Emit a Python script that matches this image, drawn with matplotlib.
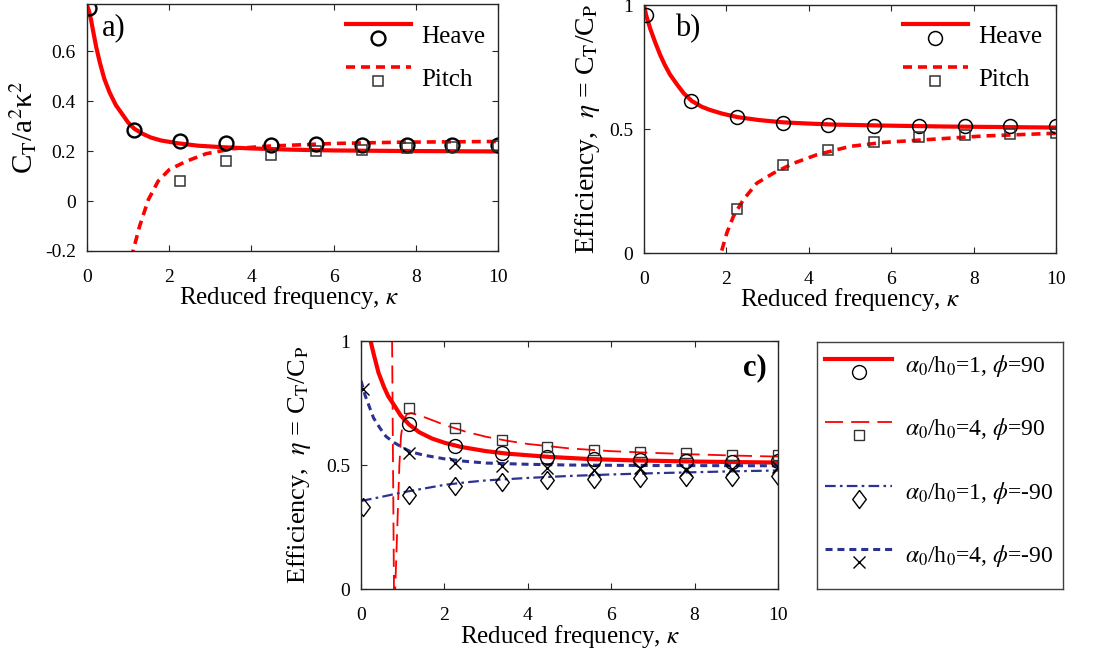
import numpy as np
import matplotlib
matplotlib.use('Agg')
import matplotlib.pyplot as plt
from matplotlib.legend_handler import HandlerBase
from matplotlib.lines import Line2D

plt.rcParams['font.family'] = ['Liberation Serif', 'DejaVu Serif']
plt.rcParams['mathtext.fontset'] = 'stix'

RED = '#ff0000'
BLUE = '#2d3192'
DIAMOND = [(0, 1), (0.75, 0), (0, -1), (-0.75, 0), (0, 1)]

# reduced frequency of the experiments / simulations (markers)
k_pts = [0.05, 1.15, 2.26, 3.37, 4.47, 5.58, 6.68, 7.79, 8.89, 10.0]

# ---- a) thrust coefficient ----
a_heave_x = [0, 0.05, 0.1, 0.15, 0.22, 0.31, 0.42, 0.55, 0.7, 0.85, 1.0, 1.15, 1.35,
             1.55, 1.8, 2.2, 2.7, 3.3, 4.0, 5.0, 6.0, 7.5, 10]
a_heave_y = [0.785, 0.76, 0.725, 0.68, 0.62, 0.556, 0.49, 0.435, 0.385, 0.35, 0.315, 0.29,
             0.27, 0.255, 0.243, 0.232, 0.222, 0.216, 0.211, 0.206, 0.203, 0.201, 0.199]
a_pitch_x = [1.08, 1.12, 1.28, 1.49, 1.73, 2.0, 2.42, 2.9, 3.55, 4.37, 6.0, 7.6, 10]
a_pitch_y = [-0.23, -0.2, -0.1, 0.005, 0.08, 0.126, 0.16, 0.19, 0.21, 0.22, 0.231, 0.236, 0.239]
a_heave_pts = [0.773, 0.285, 0.242, 0.234, 0.225, 0.23, 0.223, 0.224, 0.225, 0.224]
a_pitch_pts = [0.079, 0.161, 0.184, 0.199, 0.205, 0.212, 0.218, 0.222]

# ---- b) efficiency ----
b_heave_x = [0, 0.05, 0.15, 0.27, 0.39, 0.5, 0.63, 0.8, 0.96, 1.16, 1.4, 1.6, 1.9, 2.27,
             2.8, 3.38, 4.0, 4.6, 5.8, 7.4, 10]
b_heave_y = [1.0, 0.96, 0.905, 0.85, 0.8, 0.76, 0.72, 0.68, 0.645, 0.613, 0.59, 0.577,
             0.562, 0.548, 0.536, 0.527, 0.522, 0.518, 0.514, 0.51, 0.506]
b_pitch_x = [1.84, 1.87, 2.01, 2.17, 2.41, 2.74, 3.14, 3.63, 4.19, 5.0, 5.81, 7.03, 8.24, 10]
b_pitch_y = [-0.05, 0.0, 0.081, 0.148, 0.215, 0.282, 0.322, 0.362, 0.396, 0.43, 0.446,
             0.459, 0.472, 0.483]
b_heave_pts = [0.96, 0.613, 0.548, 0.526, 0.515, 0.513, 0.513, 0.513, 0.514, 0.514]
b_pitch_pts = [0.177, 0.354, 0.417, 0.448, 0.466, 0.474, 0.48, 0.486]

# ---- c) combined heave + pitch ----
c1_x = [0.1, 0.23, 0.3, 0.42, 0.55, 0.65, 0.8, 0.95, 1.15, 1.4, 1.7, 2.0, 2.4, 3.0, 3.5,
        4.5, 5.5, 6.5, 8.0, 10]
c1_y = [1.2, 1.0, 0.95, 0.872, 0.815, 0.778, 0.74, 0.70, 0.664, 0.632, 0.607, 0.59, 0.573,
        0.556, 0.546, 0.533, 0.524, 0.519, 0.514, 0.51]
c2_x = [0.6, 0.745, 0.79, 0.80, 0.82, 0.85, 0.88, 0.92, 0.96, 1.02, 1.1, 1.2, 1.4, 1.6, 2.0,
        2.5, 3.0, 3.5, 4.0, 5.0, 6.0, 7.0, 8.0, 9.0, 10]
c2_y = [3.0, 1.0, 0.0, -0.5, 0.0, 0.15, 0.3, 0.5, 0.62, 0.68, 0.705, 0.71, 0.70, 0.688,
        0.662, 0.635, 0.614, 0.598, 0.585, 0.567, 0.556, 0.549, 0.543, 0.538, 0.534]
c3_x = [0, 0.5, 1.0, 1.5, 2.0, 2.5, 3.0, 4.0, 5.0, 6.0, 7.0, 8.0, 9.0, 10]
c3_y = [0.355, 0.372, 0.39, 0.405, 0.42, 0.43, 0.438, 0.448, 0.456, 0.462, 0.467, 0.471,
        0.475, 0.478]
c4_x = [0, 0.1, 0.2, 0.3, 0.45, 0.6, 0.8, 1.0, 1.2, 1.5, 2.0, 2.5, 3.0, 4.0, 5.0, 7.0, 10]
c4_y = [0.84, 0.78, 0.735, 0.69, 0.65, 0.615, 0.59, 0.57, 0.553, 0.54, 0.525, 0.515, 0.508,
        0.503, 0.5, 0.498, 0.497]
c1_pts = [0.667, 0.577, 0.547, 0.531, 0.523, 0.52, 0.517, 0.513, 0.515]
c2_pts = [0.73, 0.651, 0.601, 0.574, 0.56, 0.551, 0.547, 0.54, 0.541]
c3_pts = [0.33, 0.38, 0.415, 0.433, 0.44, 0.444, 0.446, 0.45, 0.453, 0.456]
c4_pts = [0.805, 0.548, 0.507, 0.496, 0.487, 0.48, 0.487, 0.48, 0.484, 0.494]

c_labels = [r'$\alpha_0$/h$_0$=1, $\phi$=90', r'$\alpha_0$/h$_0$=4, $\phi$=90',
            r'$\alpha_0$/h$_0$=1, $\phi$=-90', r'$\alpha_0$/h$_0$=4, $\phi$=-90']

eff_label = r'Efficiency,  $\eta$ = C$_\mathrm{T}$/C$_\mathrm{P}$'


class LineOverMarker(HandlerBase):
    # matlab style legend key: line sample on top, marker under it
    def __init__(self, y_line, y_mark):
        super().__init__()
        self.y_line = y_line
        self.y_mark = y_mark

    def create_artists(self, legend, orig_handle, xdescent, ydescent, width, height,
                       fontsize, trans):
        line, mark = orig_handle
        l = Line2D([-xdescent, -xdescent + width], [self.y_line * fontsize] * 2)
        l.update_from(line)
        l.set_marker('None')
        m = Line2D([-xdescent + width / 2], [self.y_mark * fontsize])
        m.update_from(mark)
        m.set_linestyle('None')
        for a in (l, m):
            a.set_transform(trans)
            a.set_clip_on(False)
            a.set_clip_box(None)
        return [l, m]


def style_axes(ax):
    for s in ax.spines.values():
        s.set_color('#262626')
        s.set_linewidth(1.0)
    ax.tick_params(direction='in', top=True, right=True, length=4, width=0.8,
                   colors='#262626', labelcolor='black', labelsize=14)
    ax.tick_params(axis='x', pad=13)
    ax.tick_params(axis='y', pad=8)
    ax.set_xlim(0, 10)
    ax.set_xticks([0, 2, 4, 6, 8, 10])
    ax.set_xticklabels(['0', '2', '4', '6', '8', '10'])
    ax.set_xlabel(r'Reduced frequency, $\kappa$', fontsize=18)


fig = plt.figure(figsize=(10.99, 6.56), dpi=100)

# ---------------- a) ----------------
ax = fig.add_axes([0.0792, 0.6174, 0.3740, 0.3765])
style_axes(ax)
h_line, = ax.plot(a_heave_x, a_heave_y, color=RED, lw=3)
p_line, = ax.plot(a_pitch_x, a_pitch_y, color=RED, lw=2.6, dashes=(2.5, 1.65))
h_mk, = ax.plot(k_pts, a_heave_pts, 'o', ms=10, mfc='none', mec='black', mew=1.7)
p_mk, = ax.plot(k_pts[2:], a_pitch_pts, 's', ms=7, mfc='none', mec='#333333', mew=1.1)
ax.set_ylim(-0.2, 0.79)
ax.set_yticks([-0.2, 0, 0.2, 0.4, 0.6])
ax.set_yticklabels(['-0.2', '0', '0.2', '0.4', '0.6'])
ax.set_ylabel(r'C$_\mathrm{T}$/a$^2$κ$^2$', fontsize=21)
ax.yaxis.set_label_coords(-0.117, 0.5)
ax.xaxis.set_label_coords(0.49, -0.134)
ax.text(0.036, 0.903, 'a)', transform=ax.transAxes, fontsize=22, va='center')
ax.legend([(h_line, h_mk), (p_line, p_mk)], ['Heave', 'Pitch'],
          handler_map={tuple: LineOverMarker(0.77, 0.2)}, loc='upper right',
          bbox_to_anchor=(0.968, 0.927), frameon=False, borderpad=0, borderaxespad=0,
          handlelength=2.6, handletextpad=0.4, handleheight=1.2, labelspacing=0.67,
          fontsize=18)

# ---------------- b) ----------------
ax = fig.add_axes([0.5860, 0.6143, 0.3749, 0.3780])
style_axes(ax)
h_line, = ax.plot(b_heave_x, b_heave_y, color=RED, lw=3)
p_line, = ax.plot(b_pitch_x, b_pitch_y, color=RED, lw=2.6, dashes=(2.5, 1.65))
h_mk, = ax.plot(k_pts, b_heave_pts, 'o', ms=10, mfc='none', mec='black', mew=1.1)
p_mk, = ax.plot(k_pts[2:], b_pitch_pts, 's', ms=7, mfc='none', mec='#333333', mew=1.1)
ax.set_ylim(0, 1)
ax.set_yticks([0, 0.5, 1])
ax.set_yticklabels(['0', '0.5', '1'])
ax.set_ylabel(eff_label, fontsize=20)
ax.yaxis.set_label_coords(-0.102, 0.5)
ax.xaxis.set_label_coords(0.5, -0.134)
ax.text(0.075, 0.907, 'b)', transform=ax.transAxes, fontsize=22, va='center')
ax.legend([(h_line, h_mk), (p_line, p_mk)], ['Heave', 'Pitch'],
          handler_map={tuple: LineOverMarker(0.77, 0.2)}, loc='upper right',
          bbox_to_anchor=(0.966, 0.932), frameon=False, borderpad=0, borderaxespad=0,
          handlelength=2.6, handletextpad=0.4, handleheight=1.2, labelspacing=0.67,
          fontsize=18)

# ---------------- c) ----------------
ax = fig.add_axes([0.3285, 0.1021, 0.3794, 0.3780])
style_axes(ax)
l1, = ax.plot(c1_x, c1_y, color=RED, lw=3)
l2, = ax.plot(c2_x, c2_y, color=RED, lw=1.3, dashes=(10, 4.5))
l3, = ax.plot(c3_x, c3_y, color=BLUE, lw=1.6, dashes=(4.8, 1.9, 1.2, 1.9))
l4, = ax.plot(c4_x, c4_y, color=BLUE, lw=2.2, dashes=(2.3, 1.6))
m1, = ax.plot(k_pts[1:], c1_pts, 'o', ms=10, mfc='none', mec='black', mew=1.0)
m2, = ax.plot(k_pts[1:], c2_pts, 's', ms=7.5, mfc='none', mec='#333333', mew=1.0)
m3, = ax.plot(k_pts, c3_pts, marker=DIAMOND, ls='none', ms=13, mfc='none', mec='black',
              mew=1.0)
m4, = ax.plot(k_pts, c4_pts, 'x', ms=8, mec='black', mew=1.0)
ax.set_ylim(0, 1)
ax.set_yticks([0, 0.5, 1])
ax.set_yticklabels(['0', '0.5', '1'])
ax.set_ylabel(eff_label, fontsize=19)
ax.yaxis.set_label_coords(-0.116, 0.5)
ax.xaxis.set_label_coords(0.5, -0.137)
ax.text(0.974, 0.891, 'c)', transform=ax.transAxes, fontsize=22, va='center', ha='right',
        fontweight='bold')

lax = fig.add_axes([0.7434, 0.1021, 0.2238, 0.3765])
lax.set_xticks([])
lax.set_yticks([])
for s in lax.spines.values():
    s.set_color('#404040')
    s.set_linewidth(1.0)
lax.legend([(l1, m1), (l2, m2), (l3, m3), (l4, m4)], c_labels,
           handler_map={tuple: LineOverMarker(0.55, 0.0)}, loc='upper left',
           bbox_to_anchor=(0.033, 0.954), frameon=False, borderpad=0, borderaxespad=0,
           handlelength=2.85, handletextpad=0.55, handleheight=1.0, labelspacing=1.57,
           fontsize=17)

fig.savefig('out.png', dpi=100)
